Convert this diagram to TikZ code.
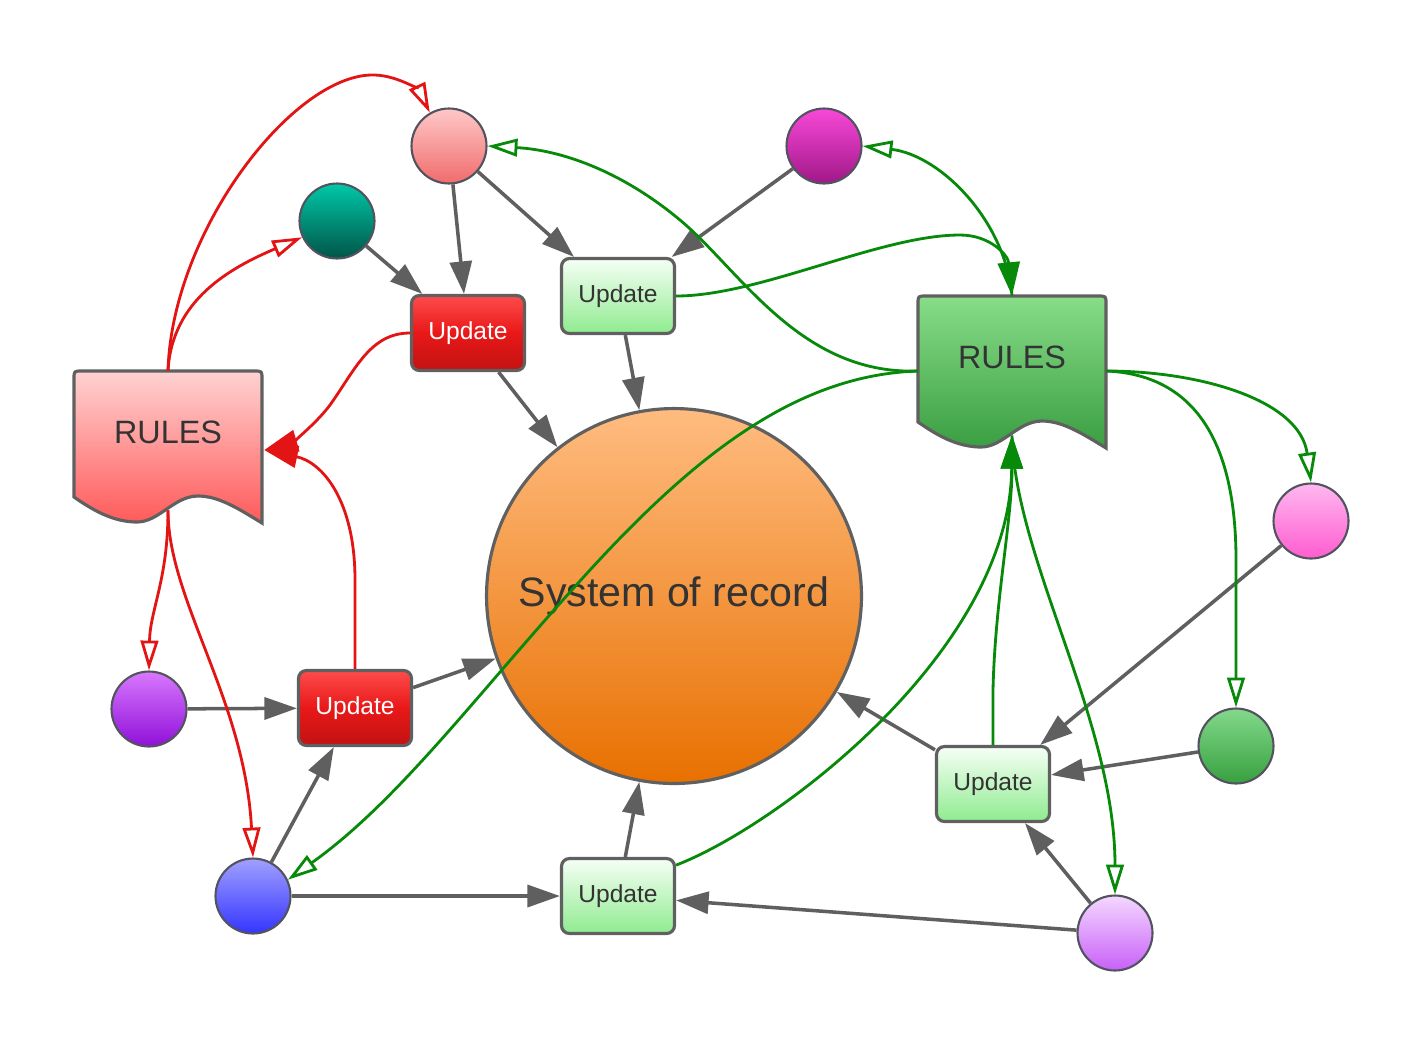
\documentclass[tikz,border=0pt]{standalone}
\usepackage{fontspec}
\setmainfont{Liberation Sans}
\usetikzlibrary{arrows.meta,calc}
\definecolor{gline}{HTML}{5F5F5F}
\definecolor{bborder}{HTML}{606060}
\definecolor{cborder}{HTML}{535360}
\definecolor{rline}{HTML}{E31414}
\definecolor{grline}{HTML}{078A0A}
\definecolor{txt}{HTML}{333333}
\definecolor{cA1}{HTML}{FFD2D2}\definecolor{cA2}{HTML}{FF5A5A}
\definecolor{cB1}{HTML}{88DD88}\definecolor{cB2}{HTML}{3A9E42}
\definecolor{cO1}{HTML}{FFBC80}\definecolor{cO2}{HTML}{E87000}
\definecolor{cP1}{HTML}{FFC8C8}\definecolor{cP2}{HTML}{F06C6C}
\definecolor{cM1}{HTML}{F848D8}\definecolor{cM2}{HTML}{A01888}
\definecolor{cT1}{HTML}{00C8A8}\definecolor{cT2}{HTML}{005548}
\definecolor{cU1}{HTML}{D878FF}\definecolor{cU2}{HTML}{9010D8}
\definecolor{cL1}{HTML}{A0A0FF}\definecolor{cL2}{HTML}{3535FF}
\definecolor{cR1}{HTML}{FFB8F0}\definecolor{cR2}{HTML}{FF5CD0}
\definecolor{cG1}{HTML}{82D98A}\definecolor{cG2}{HTML}{38A040}
\definecolor{cV1}{HTML}{F4D8FF}\definecolor{cV2}{HTML}{C860F8}
\definecolor{bR1}{HTML}{FF4C4C}\definecolor{bR2}{HTML}{E81818}\definecolor{bR3}{HTML}{C21212}
\definecolor{bG1}{HTML}{F6FFF6}\definecolor{bG2}{HTML}{8FEB8F}
\tikzset{
  circ/.style={circle, draw=cborder, line width=1.2pt, minimum size=1.5cm, inner sep=0pt},
  updbox/.style={rectangle, rounded corners=4.5pt, draw=bborder, line width=1.8pt,
    minimum width=2.26cm, minimum height=1.5cm, inner sep=0pt, font=\fontsize{14}{16}\selectfont},
  updR/.style={updbox, top color=bR1, bottom color=bR3, middle color=bR2, text=white},
  updG/.style={updbox, top color=bG1, bottom color=bG2, text=txt},
  docbox/.style={draw=bborder, line width=1.8pt},
  rulestext/.style={rectangle, draw=none, minimum width=3.76cm, minimum height=2.52cm, inner sep=0pt,
    font=\fontsize{18.4}{22}\selectfont, text=txt},
  garrow/.style={draw=gline, line width=2pt, -{Triangle[length=18.5pt,width=12.5pt]}},
  ropen/.style={draw=rline, line width=1.6pt, -{Triangle[open,length=17pt,width=10pt]}},
  rfill/.style={draw=rline, line width=1.6pt, -{Triangle[length=19pt,width=12.5pt]}},
  gopen/.style={draw=grline, line width=1.6pt, -{Triangle[open,length=17pt,width=10pt]}},
  gfill/.style={draw=grline, line width=1.6pt, -{Triangle[length=19pt,width=12.5pt]}},
}
\newcommand\docpath{(0,126) -- (0,8) .. controls (0,0) .. (8,0) -- (180,0) .. controls (188,0) .. (188,8) -- (188,152) .. controls (165,138) and (145,125) .. (124,125) .. controls (100,125) and (85,151) .. (63,151) .. controls (40,151) and (20,140) .. (0,126) -- cycle}
\begin{document}
\begin{tikzpicture}[x=0.02cm,y=-0.02cm]
\useasboundingbox[fill=white] (0,0) rectangle (1425,1046);

% document shapes
\begin{scope}[shift={(74,371)}]
  \draw[docbox, top color=cA1, bottom color=cA2] \docpath;
\end{scope}
\begin{scope}[shift={(918,296)}]
  \draw[docbox, top color=cB1, bottom color=cB2] \docpath;
\end{scope}
\node[rulestext] (rulesR) at (168,434) {\raisebox{2.3pt}{RULES}};
\node[rulestext] (rulesG) at (1012,359) {\raisebox{2.3pt}{RULES}};

% central circle
\node[circle, draw=bborder, line width=1.8pt, minimum size=7.5cm, inner sep=0pt,
  top color=cO1, bottom color=cO2, text=txt, font=\fontsize{23.4}{28}\selectfont] (sor) at (674,596) {System of record};

% small circles
\node[circ, top color=cP1, bottom color=cP2] (pinkT) at (449,146) {};
\node[circ, top color=cM1, bottom color=cM2] (magenta) at (824,146) {};
\node[circ, top color=cT1, bottom color=cT2] (teal) at (337,221) {};
\node[circ, top color=cU1, bottom color=cU2] (purple) at (149,709) {};
\node[circ, top color=cL1, bottom color=cL2] (blue) at (253,896) {};
\node[circ, top color=cR1, bottom color=cR2] (pinkR) at (1311,521) {};
\node[circ, top color=cG1, bottom color=cG2] (greenC) at (1236,746) {};
\node[circ, top color=cV1, bottom color=cV2] (lavender) at (1115,933) {};

% update boxes
\node[updR] (redU1) at (468,333) {Update};
\node[updG] (greenU1) at (618,296) {Update};
\node[updR] (redU2) at (355,708) {Update};
\node[updG] (greenU2) at (618,896) {Update};
\node[updG] (greenU3) at (993,784) {Update};

% gray arrows
\draw[garrow] (pinkT) -- (redU1);
\draw[garrow] (pinkT) -- (greenU1);
\draw[garrow] (teal) -- (redU1);
\draw[garrow] (magenta) -- (greenU1);
\draw[garrow] (redU1) -- (sor);
\draw[garrow] (greenU1) -- (sor);
\draw[garrow] (purple) -- (redU2);
\draw[garrow] (redU2) -- (sor);
\draw[garrow] (blue) -- (redU2);
\draw[garrow] (blue) -- (greenU2);
\draw[garrow] (greenU2) -- (sor);
\draw[garrow] (lavender) -- (greenU2);
\draw[garrow] (lavender) -- (greenU3);
\draw[garrow] (greenC) -- (greenU3);
\draw[garrow] (pinkR) -- (greenU3);
\draw[garrow] (greenU3) -- (sor);

% red connectors
\draw[ropen] (rulesR.north) .. controls (172,230) and (295,72) .. (375,75) .. controls (400,76) and (420,92) .. (pinkT.120);
\draw[ropen] (rulesR.north) .. controls (172,300) and (230,268) .. (teal.205);
\draw[rfill] (redU1.west) .. controls (370,333) and (355,370) .. (330,405) .. controls (315,425) and (292,442) .. ($(rulesR.east)+(2,16)$);
\draw[rfill] (redU2.north) -- (355,580) .. controls (355,500) and (322,462) .. ($(rulesR.east)+(2,16)$);
\draw[ropen] ($(rulesR.south)+(0,13)$) .. controls (168,580) and (150,610) .. (purple.north);
\draw[ropen] ($(rulesR.south)+(0,13)$) .. controls (168,600) and (245,700) .. (blue.north);

% green connectors
\draw[gopen] ($(rulesG.west)+(0,12)$) .. controls (800,375) and (740,270) .. (680,220) .. controls (620,170) and (560,150) .. (pinkT.east);
\draw[gopen] ($(rulesG.west)+(0,12)$) .. controls (800,375) and (700,450) .. (590,570) .. controls (480,690) and (400,800) .. (blue.25);
\draw[gfill] (greenU1.east) .. controls (760,296) and (880,235) .. (960,235) .. controls (990,235) and (1008,255) .. (rulesG.north);
\draw[gopen] (rulesG.north) .. controls (1005,220) and (940,155) .. (magenta.east);
\draw[gopen] ($(rulesG.east)+(0,12)$) .. controls (1200,371) and (1300,400) .. (pinkR.north);
\draw[gopen] ($(rulesG.east)+(0,12)$) .. controls (1200,375) and (1236,450) .. (1236,560) -- (greenC.north);
\draw[gfill] (greenU3.north) -- (993,690) .. controls (995,600) and (1012,520) .. ($(rulesG.south)+(0,13)$);
\draw[gfill] (greenU2.28) .. controls (780,825) and (1010,650) .. ($(rulesG.south)+(0,13)$);
\draw[gopen] ($(rulesG.south)+(0,13)$) .. controls (1015,560) and (1115,720) .. (lavender.north);
\end{tikzpicture}
\end{document}
